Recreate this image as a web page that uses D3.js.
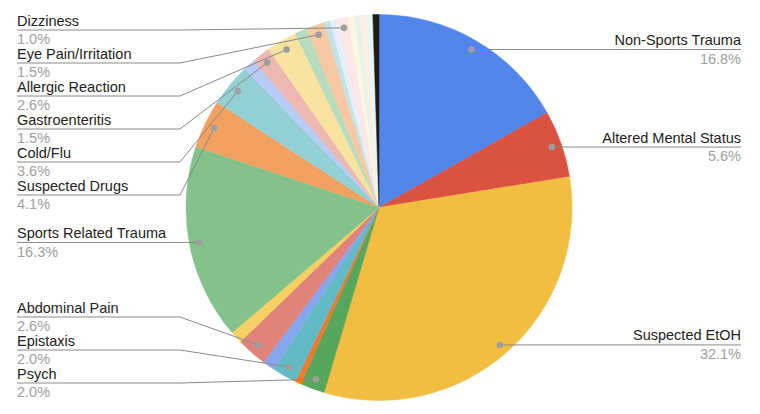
<!DOCTYPE html>
<html>
<head>
<meta charset="utf-8">
<script src="https://cdn.jsdelivr.net/npm/d3@7"></script>
<style>
  html, body { margin: 0; padding: 0; background: #fff; }
  svg { display: block; }
  text { font-family: "Liberation Sans", Arial, Helvetica, sans-serif; }
</style>
</head>
<body>
<svg id="chart" width="760" height="414"></svg>
<script>
// ---- Data (clockwise from 12 o'clock); "" = slice whose name is not shown in the chart
const categories = [
  "Non-Sports Trauma", "Altered Mental Status", "Suspected EtOH", "Psych", "",
  "Epistaxis", "", "Abdominal Pain", "", "Sports Related Trauma",
  "Suspected Drugs", "Cold/Flu", "", "Gastroenteritis", "Allergic Reaction",
  "", "Eye Pain/Irritation", "", "", "Dizziness",
  "", "", "", "", ""
];
const counts = [
  33, 11, 63, 4, 1,
  4, 2, 5, 2, 32,
  8, 7, 2, 3, 5,
  2, 3, 1, 1, 2,
  1, 1, 1, 1, 1
];
const sliceColors = [
  "#5286ea", "#dc5241", "#f2be42", "#56a65c", "#ef7a2c",
  "#62bac4", "#86a6f0", "#e0837a", "#f6d062", "#83c28b",
  "#f2a160", "#92d0d6", "#b8cbf6", "#edb7b2", "#f9e3a0",
  "#b7dcbd", "#f6c9a3", "#bfe4e8", "#e6eefc", "#fae7e6",
  "#fdf6e1", "#e7f3e9", "#fdeee3", "#e8f5f6", "#1f1a12"
];

// ---- Layout
const cx = 379, cy = 207.5, R = 193, dotR = 183;
const leftX = 17, bendX = 180, rightX = 741;
const topLimit = 30, bottomLimit = 383, gap = 33;

const svg = d3.select("#chart");
const g = svg.append("g").attr("transform", `translate(${cx},${cy})`);

const data = categories.map((c, i) => ({ name: c, value: counts[i], color: sliceColors[i] }));
const total = d3.sum(counts);
const pct = d3.format(".1%");

const pie = d3.pie().value(d => d.value).sort(null).startAngle(0).endAngle(2 * Math.PI);
const arcs = pie(data);
const arc = d3.arc().innerRadius(0).outerRadius(R);

g.selectAll("path.slice")
  .data(arcs)
  .enter().append("path")
  .attr("class", "slice")
  .attr("d", arc)
  .attr("fill", d => d.data.color)
  .attr("stroke", d => d.data.color)
  .attr("stroke-width", 0.5);

// ---- Labels
const labeled = arcs.filter(a => a.data.name !== "").map(a => {
  const mid = (a.startAngle + a.endAngle) / 2;
  const dx = cx + dotR * Math.sin(mid);
  const dy = cy - dotR * Math.cos(mid);
  return { a, mid, dx, dy, side: Math.sin(mid) >= 0 ? "right" : "left", y: dy };
});

function layout(list) {
  list.sort((p, q) => p.dy - q.dy);
  let prev = -Infinity;
  list.forEach(l => { l.y = Math.max(l.dy, topLimit, prev + gap); prev = l.y; });
  let next = Infinity;
  for (let i = list.length - 1; i >= 0; i--) {
    list[i].y = Math.min(list[i].y, bottomLimit, next - gap);
    next = list[i].y;
  }
}
const left = labeled.filter(l => l.side === "left");
const right = labeled.filter(l => l.side === "right");
layout(left); layout(right);

const lab = svg.append("g");
const lineColor = "#8a8a8a";

left.forEach(l => {
  lab.append("path")
    .attr("d", `M${leftX},${l.y}H${bendX}L${l.dx},${l.dy}`)
    .attr("fill", "none").attr("stroke", lineColor).attr("stroke-width", 1);
  lab.append("circle").attr("cx", l.dx).attr("cy", l.dy).attr("r", 3.3).attr("fill", "#9e9e9e");
  lab.append("text").attr("x", leftX).attr("y", l.y - 4.5)
    .attr("font-size", "14.5px").attr("fill", "#222").text(l.a.data.name);
  lab.append("text").attr("x", leftX).attr("y", l.y + 14.3)
    .attr("font-size", "14.5px").attr("fill", "#9e9e9e").text(pct(l.a.data.value / total));
});

right.forEach(l => {
  lab.append("path")
    .attr("d", `M${l.dx},${l.dy}L${rightX - 163},${l.y}H${rightX}`)
    .attr("fill", "none").attr("stroke", lineColor).attr("stroke-width", 1);
  lab.append("circle").attr("cx", l.dx).attr("cy", l.dy).attr("r", 3.3).attr("fill", "#9e9e9e");
  lab.append("text").attr("x", rightX).attr("y", l.y - 4.5).attr("text-anchor", "end")
    .attr("font-size", "14.5px").attr("fill", "#222").text(l.a.data.name);
  lab.append("text").attr("x", rightX).attr("y", l.y + 14.3).attr("text-anchor", "end")
    .attr("font-size", "14.5px").attr("fill", "#9e9e9e").text(pct(l.a.data.value / total));
});
</script>
</body>
</html>
